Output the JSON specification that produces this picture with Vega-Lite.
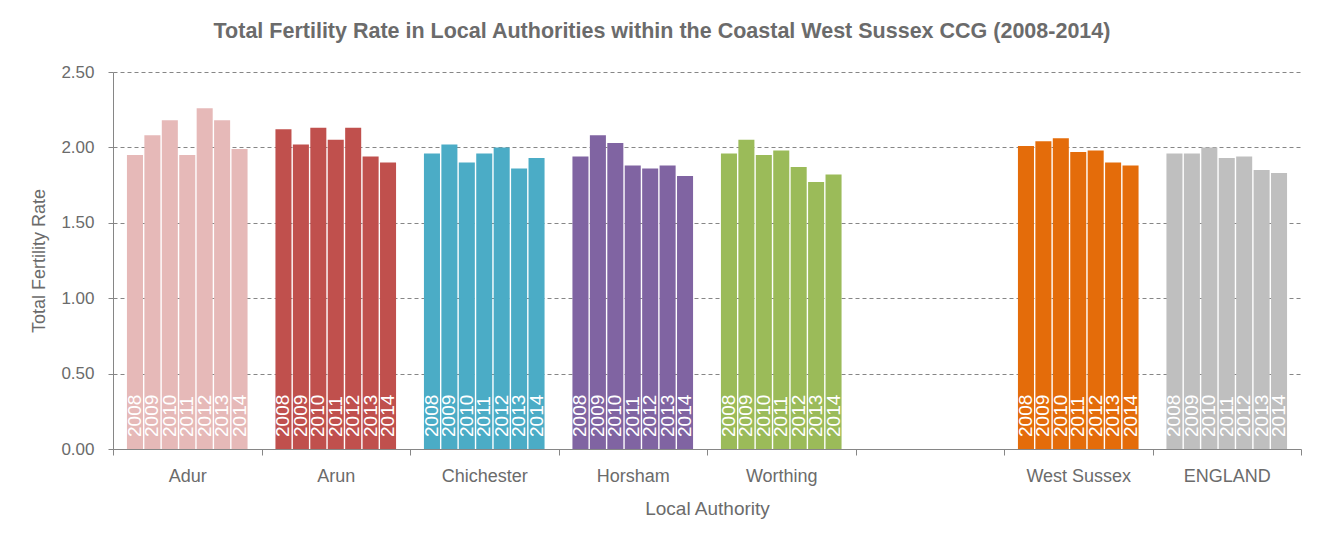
{
  "$schema": "https://vega.github.io/schema/vega-lite/v6.json",
  "width": 1188,
  "height": 377,
  "autosize": {"type": "none"},
  "padding": {"left": 113, "top": 72, "right": 23, "bottom": 97},
  "background": "white",
  "config": {"view": {"stroke": null}, "font": "Liberation Sans"},
  "title": {
    "text": "Total Fertility Rate in Local Authorities within the Coastal West Sussex CCG (2008-2014)",
    "font": "Liberation Sans",
    "fontSize": 21.5,
    "fontWeight": "bold",
    "color": "#6b6b6b",
    "anchor": "middle",
    "dx": -45,
    "offset": 21
  },
  "data": {
    "values": [
      {"la": "Adur", "year": "2008", "tfr": 1.95},
      {"la": "Adur", "year": "2009", "tfr": 2.08},
      {"la": "Adur", "year": "2010", "tfr": 2.18},
      {"la": "Adur", "year": "2011", "tfr": 1.95},
      {"la": "Adur", "year": "2012", "tfr": 2.26},
      {"la": "Adur", "year": "2013", "tfr": 2.18},
      {"la": "Adur", "year": "2014", "tfr": 1.99},
      {"la": "Arun", "year": "2008", "tfr": 2.12},
      {"la": "Arun", "year": "2009", "tfr": 2.02},
      {"la": "Arun", "year": "2010", "tfr": 2.13},
      {"la": "Arun", "year": "2011", "tfr": 2.05},
      {"la": "Arun", "year": "2012", "tfr": 2.13},
      {"la": "Arun", "year": "2013", "tfr": 1.94},
      {"la": "Arun", "year": "2014", "tfr": 1.90},
      {"la": "Chichester", "year": "2008", "tfr": 1.96},
      {"la": "Chichester", "year": "2009", "tfr": 2.02},
      {"la": "Chichester", "year": "2010", "tfr": 1.90},
      {"la": "Chichester", "year": "2011", "tfr": 1.96},
      {"la": "Chichester", "year": "2012", "tfr": 2.00},
      {"la": "Chichester", "year": "2013", "tfr": 1.86},
      {"la": "Chichester", "year": "2014", "tfr": 1.93},
      {"la": "Horsham", "year": "2008", "tfr": 1.94},
      {"la": "Horsham", "year": "2009", "tfr": 2.08},
      {"la": "Horsham", "year": "2010", "tfr": 2.03},
      {"la": "Horsham", "year": "2011", "tfr": 1.88},
      {"la": "Horsham", "year": "2012", "tfr": 1.86},
      {"la": "Horsham", "year": "2013", "tfr": 1.88},
      {"la": "Horsham", "year": "2014", "tfr": 1.81},
      {"la": "Worthing", "year": "2008", "tfr": 1.96},
      {"la": "Worthing", "year": "2009", "tfr": 2.05},
      {"la": "Worthing", "year": "2010", "tfr": 1.95},
      {"la": "Worthing", "year": "2011", "tfr": 1.98},
      {"la": "Worthing", "year": "2012", "tfr": 1.87},
      {"la": "Worthing", "year": "2013", "tfr": 1.77},
      {"la": "Worthing", "year": "2014", "tfr": 1.82},
      {"la": "West Sussex", "year": "2008", "tfr": 2.01},
      {"la": "West Sussex", "year": "2009", "tfr": 2.04},
      {"la": "West Sussex", "year": "2010", "tfr": 2.06},
      {"la": "West Sussex", "year": "2011", "tfr": 1.97},
      {"la": "West Sussex", "year": "2012", "tfr": 1.98},
      {"la": "West Sussex", "year": "2013", "tfr": 1.90},
      {"la": "West Sussex", "year": "2014", "tfr": 1.88},
      {"la": "ENGLAND", "year": "2008", "tfr": 1.96},
      {"la": "ENGLAND", "year": "2009", "tfr": 1.96},
      {"la": "ENGLAND", "year": "2010", "tfr": 2.00},
      {"la": "ENGLAND", "year": "2011", "tfr": 1.93},
      {"la": "ENGLAND", "year": "2012", "tfr": 1.94},
      {"la": "ENGLAND", "year": "2013", "tfr": 1.85},
      {"la": "ENGLAND", "year": "2014", "tfr": 1.83}
    ]
  },
  "encoding": {
    "x": {
      "field": "la",
      "type": "nominal",
      "sort": null,
      "scale": {
        "domain": ["Adur", "Arun", "Chichester", "Horsham", "Worthing", " ", "West Sussex", "ENGLAND"],
        "paddingInner": 0,
        "paddingOuter": 0
      },
      "axis": {
        "title": "Local Authority",
        "titleFontSize": 19,
        "titleFontWeight": "normal",
        "titleColor": "#6b6b6b",
        "titlePadding": 14,
        "labelAngle": 0,
        "labelFontSize": 18,
        "labelColor": "#6b6b6b",
        "labelPadding": 12,
        "tickBand": "extent",
        "tickSize": 6,
        "tickColor": "#868686",
        "domainColor": "#868686",
        "grid": false
      }
    },
    "xOffset": {
      "field": "year",
      "type": "nominal",
      "scale": {"paddingInner": 0.08, "paddingOuter": 0.8}
    }
  },
  "layer": [
    {
      "mark": {"type": "bar"},
      "encoding": {
        "y": {
          "field": "tfr",
          "type": "quantitative",
          "scale": {"domain": [0, 2.5], "nice": false},
          "axis": {
            "title": "Total Fertility Rate",
            "titleFontSize": 18,
            "titleFontWeight": "normal",
            "titleColor": "#6b6b6b",
            "titlePadding": 12,
            "values": [0, 0.5, 1, 1.5, 2, 2.5],
            "format": ".2f",
            "labelFontSize": 17,
            "labelColor": "#6b6b6b",
            "labelPadding": 14,
            "tickSize": 5,
            "tickColor": "#868686",
            "domainColor": "#868686",
            "grid": true,
            "gridDash": [4, 3],
            "gridColor": "#868686"
          }
        },
        "color": {
          "field": "la",
          "type": "nominal",
          "legend": null,
          "scale": {
            "domain": ["Adur", "Arun", "Chichester", "Horsham", "Worthing", "West Sussex", "ENGLAND"],
            "range": ["#E6B9B8", "#C0504D", "#4BACC6", "#8064A2", "#9BBB59", "#E46C0A", "#BFBFBF"]
          }
        }
      }
    },
    {
      "mark": {
        "type": "text",
        "angle": 270,
        "align": "left",
        "baseline": "middle",
        "dx": 12,
        "color": "white",
        "fontSize": 19
      },
      "encoding": {
        "y": {"datum": 0, "type": "quantitative"},
        "text": {"field": "year"}
      }
    }
  ]
}
